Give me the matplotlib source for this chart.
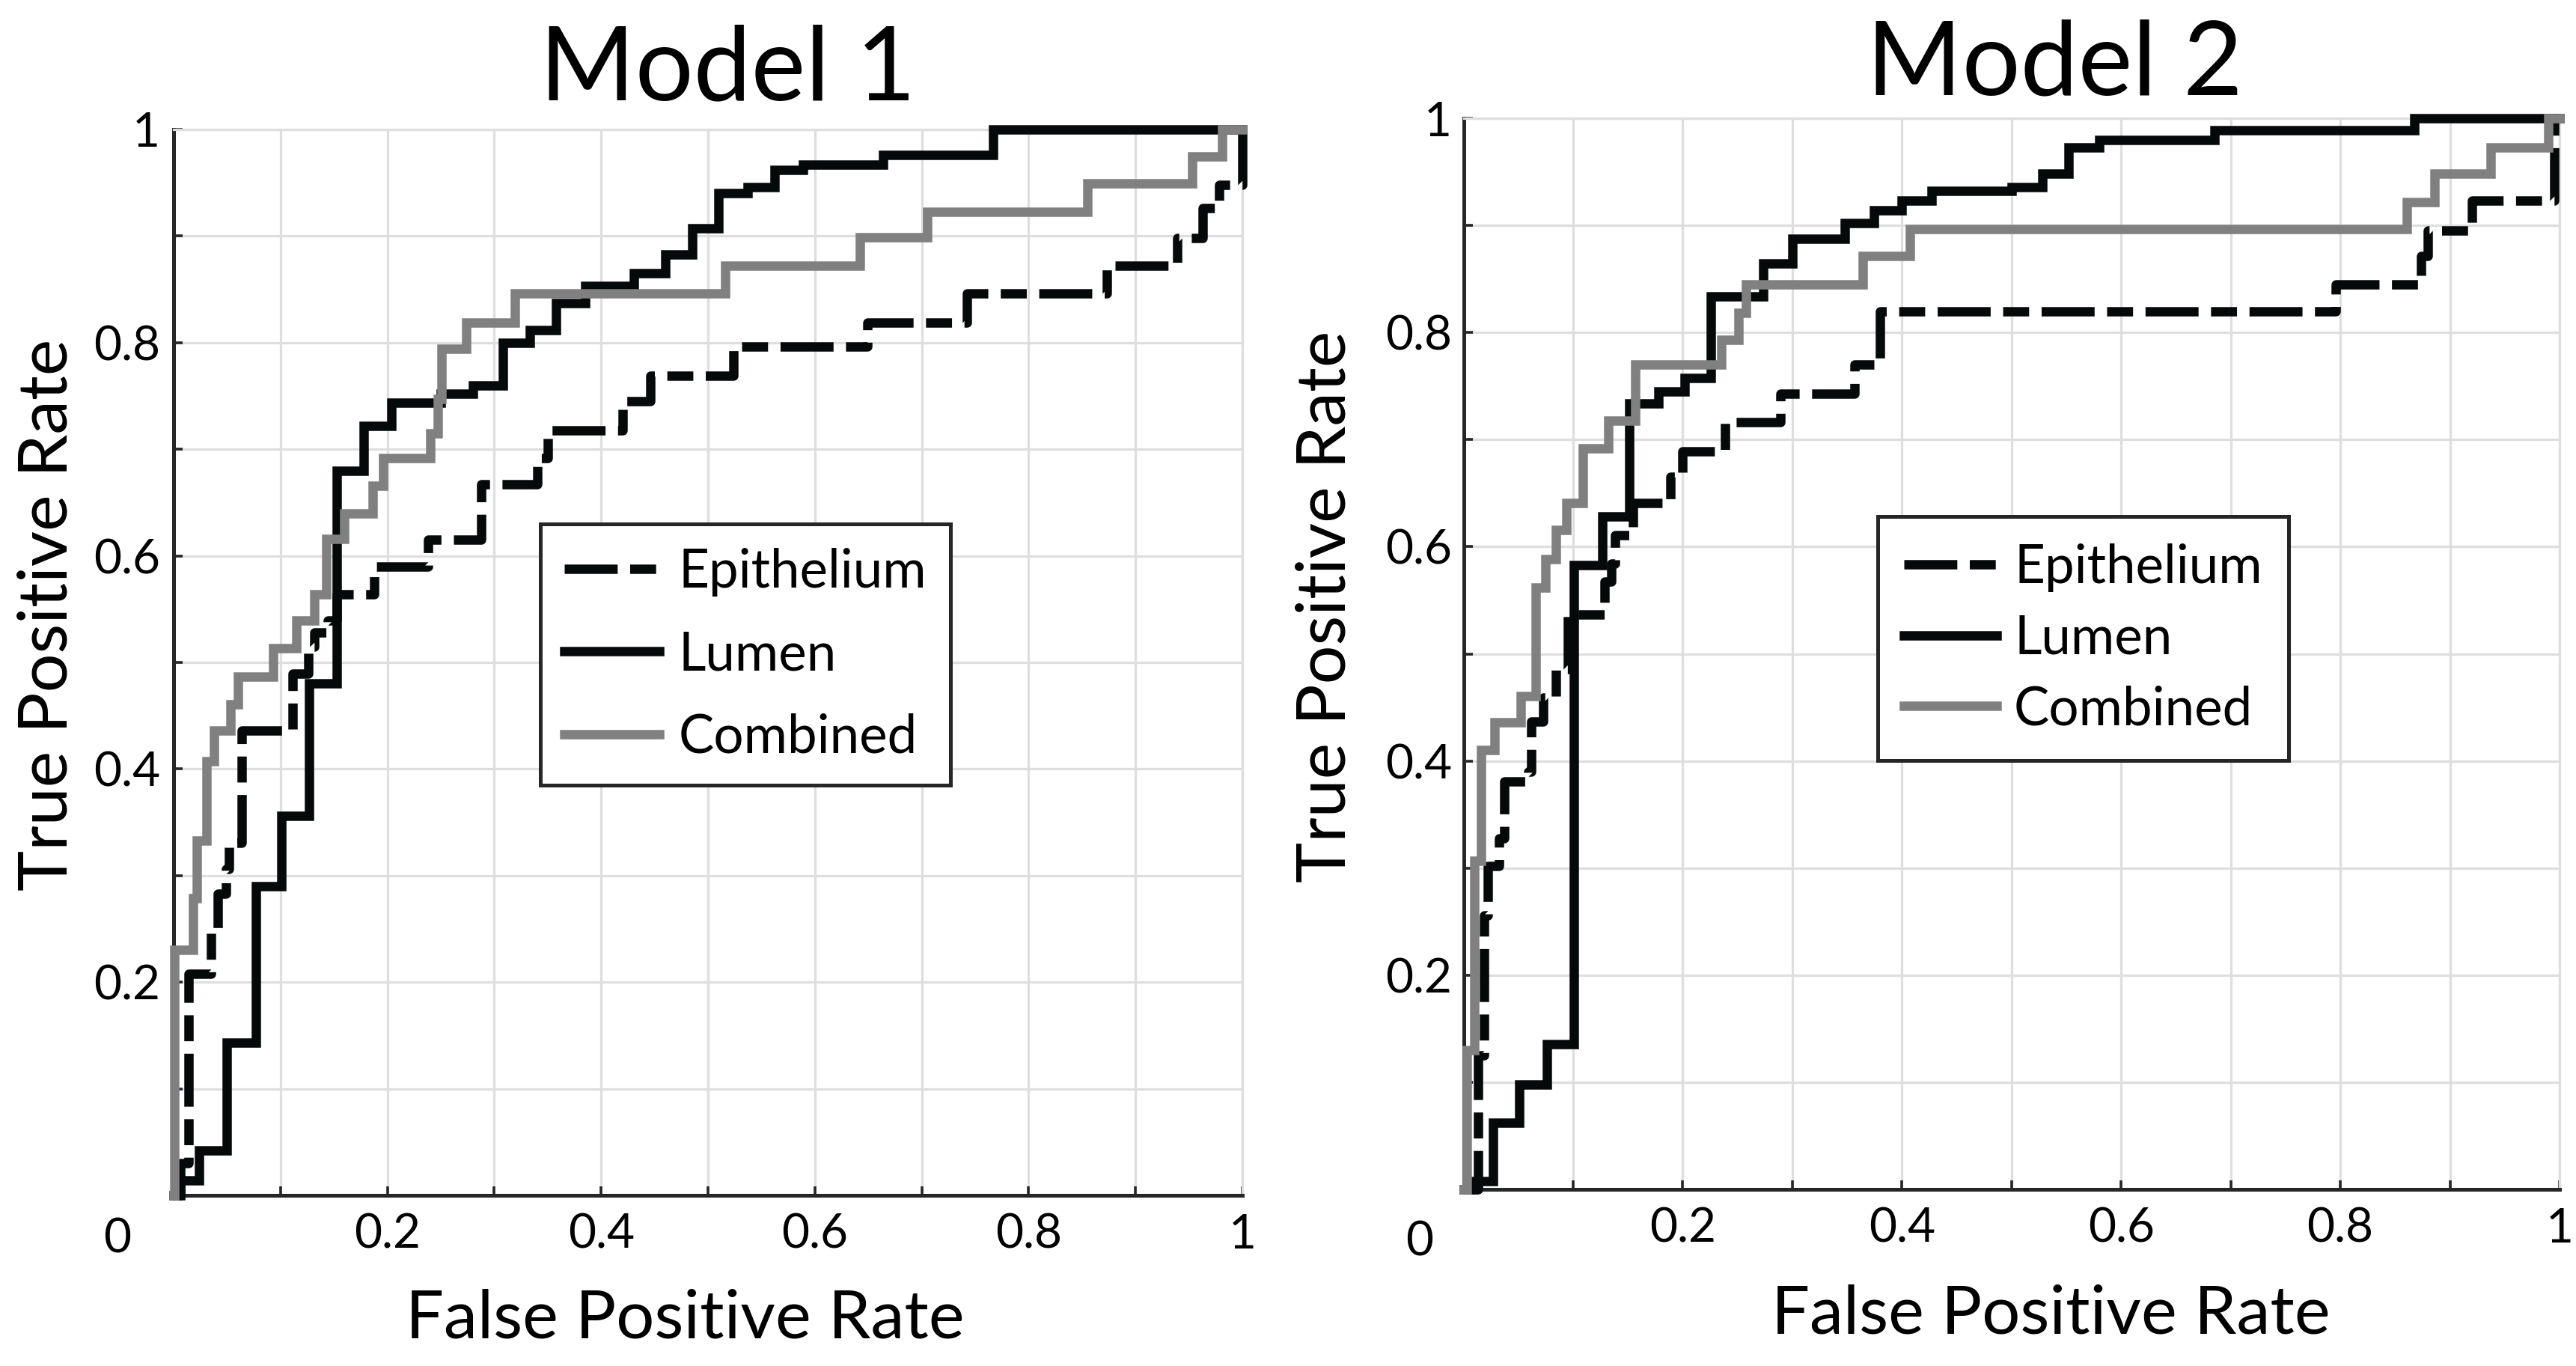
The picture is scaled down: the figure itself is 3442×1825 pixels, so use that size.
import matplotlib
matplotlib.use('Agg')
import matplotlib.pyplot as plt
import numpy as np

plt.rcParams['font.family'] = ['Lato', 'DejaVu Sans']
plt.rcParams['lines.scale_dashes'] = False

# ---------------- data (ROC step vertices: FPR where TPR rises, TPR after rise) ----------------
series_names = ['Epithelium', 'Lumen', 'Combined']

m1_epi_fpr = [0, 0.006, 0.014, 0.035, 0.041, 0.049, 0.052, 0.064, 0.111, 0.126, 0.132, 0.1445, 0.153,
              0.188, 0.238, 0.288, 0.34, 0.35, 0.42, 0.446, 0.524, 0.649, 0.742, 0.873, 0.939, 0.963,
              0.978, 1.0]
m1_epi_tpr = [0, 0.03, 0.208, 0.25, 0.283, 0.306, 0.331, 0.436, 0.4895, 0.515, 0.528, 0.539, 0.564,
              0.59, 0.615, 0.667, 0.692, 0.718, 0.745, 0.769, 0.796, 0.819, 0.846, 0.8725, 0.898, 0.926,
              0.948, 1.0]

m1_lum_fpr = [0, 0.006, 0.024, 0.05, 0.077, 0.101, 0.127, 0.153, 0.178, 0.204, 0.25, 0.28, 0.308, 0.333,
              0.358, 0.385, 0.431, 0.46, 0.485, 0.51, 0.537, 0.562, 0.589, 0.664, 0.767, 1.0]
m1_lum_tpr = [0, 0.014, 0.042, 0.143, 0.29, 0.356, 0.48, 0.68, 0.722, 0.744, 0.752, 0.76, 0.80, 0.812,
              0.837, 0.853, 0.865, 0.883, 0.907, 0.94, 0.946, 0.962, 0.967, 0.976, 1.0, 1.0]

m1_com_fpr = [0, 0.001, 0.018, 0.022, 0.031, 0.038, 0.0535, 0.06, 0.093, 0.115, 0.132, 0.143, 0.16,
              0.1865, 0.196, 0.24, 0.247, 0.251, 0.274, 0.319, 0.516, 0.642, 0.705, 0.855, 0.953, 0.981, 1.0]
m1_com_tpr = [0, 0.23, 0.279, 0.333, 0.4075, 0.436, 0.461, 0.487, 0.513, 0.539, 0.564, 0.616, 0.64,
              0.666, 0.692, 0.715, 0.747, 0.794, 0.819, 0.846, 0.8725, 0.899, 0.923, 0.9496, 0.975, 1.0, 1.0]

m2_epi_fpr = [0, 0.013, 0.019, 0.0224, 0.0326, 0.037, 0.059, 0.062, 0.0725, 0.084, 0.095, 0.129, 0.135,
              0.1385, 0.155, 0.189, 0.20, 0.2387, 0.289, 0.357, 0.38, 0.796, 0.874, 0.88, 0.92, 0.995, 1.0]
m2_epi_tpr = [0, 0.125, 0.2556, 0.302, 0.328, 0.381, 0.39, 0.437, 0.459, 0.486, 0.537, 0.5677, 0.584,
              0.611, 0.641, 0.6655, 0.689, 0.7165, 0.743, 0.77, 0.82, 0.845, 0.8716, 0.895, 0.923, 1.0, 1.0]

m2_lum_fpr = [0, 0.009, 0.027, 0.051, 0.076, 0.101, 0.127, 0.151, 0.178, 0.202, 0.226, 0.2735, 0.30,
              0.348, 0.3745, 0.40, 0.427, 0.50, 0.528, 0.552, 0.58, 0.685, 0.8675, 1.0]
m2_lum_tpr = [0, 0.0075, 0.062, 0.098, 0.1356, 0.583, 0.628, 0.734, 0.745, 0.7575, 0.834, 0.8645, 0.8876,
              0.902, 0.914, 0.923, 0.932, 0.936, 0.948, 0.973, 0.98, 0.989, 1.0, 1.0]

m2_com_fpr = [0, 0.003, 0.01, 0.016, 0.028, 0.052, 0.066, 0.075, 0.084, 0.094, 0.109, 0.132, 0.157,
              0.235, 0.251, 0.258, 0.364, 0.4076, 0.8605, 0.886, 0.937, 0.99, 1.0]
m2_com_tpr = [0, 0.13, 0.307, 0.41, 0.436, 0.4605, 0.562, 0.5886, 0.6154, 0.641, 0.6915, 0.718, 0.77,
              0.793, 0.818, 0.845, 0.8716, 0.8966, 0.9215, 0.948, 0.973, 1.0, 1.0]

tick_vals = [0, 0.1, 0.2, 0.3, 0.4, 0.5, 0.6, 0.7, 0.8, 0.9, 1.0]
tick_labels = ['', '', '0.2', '', '0.4', '', '0.6', '', '0.8', '', '1']
titles = ['Model 1', 'Model 2']

# ---------------- styling ----------------
W, H = 3442, 1825
BLACK = '#060909'
GRAY = '#808080'
GRID = '#dedede'
SPINE = '#262626'
LW = 9.0
DASH = (0, (51, 12, 25, 12))

fig = plt.figure(figsize=(W / 100, H / 100), dpi=100)
fig.patch.set_facecolor('white')

def px(x, y):
    return x / W, 1 - y / H

ax1 = fig.add_axes([232 / W, 1 - 1597 / H, 1428 / W, 1424 / H])
ax2 = fig.add_axes([1955.5 / W, 1 - 1589 / H, 1464.5 / W, 1431 / H])

def style(ax, ypad):
    ax.set_xlim(0, 1)
    ax.set_ylim(0, 1)
    ax.set_xticks(tick_vals)
    ax.set_yticks(tick_vals)
    ax.set_xticklabels(tick_labels)
    ax.set_yticklabels(tick_labels)
    ax.grid(True, color=GRID, linewidth=2.3, zorder=0)
    ax.set_axisbelow(True)
    for s in ['left', 'bottom']:
        ax.spines[s].set_color(SPINE)
        ax.spines[s].set_linewidth(3.6)
    for s in ['top', 'right']:
        ax.spines[s].set_color(GRID)
        ax.spines[s].set_linewidth(2.3)
    ax.tick_params(axis='both', direction='in', length=8.5, width=2.6, color=SPINE,
                   labelsize=46, top=False, right=False)
    ax.tick_params(axis='x', pad=17)
    ax.tick_params(axis='y', pad=ypad)

def draw(ax, epi, lum, com, leg_anchor, leg_spacing, leg_textpad, leg_hl, leg_bp):
    h1, = ax.plot(epi[0], epi[1], drawstyle='steps-post', color=BLACK, lw=LW, ls=DASH,
                  dash_capstyle='butt', clip_on=False, zorder=3)
    h2, = ax.plot(lum[0], lum[1], drawstyle='steps-post', color=BLACK, lw=LW,
                  solid_joinstyle='miter', clip_on=False, zorder=3)
    h3, = ax.plot(com[0], com[1], drawstyle='steps-post', color=GRAY, lw=LW,
                  solid_joinstyle='miter', clip_on=False, zorder=4)
    leg = ax.legend([h1, h2, h3], series_names, loc='upper left', bbox_to_anchor=leg_anchor,
                    fontsize=51, frameon=True, fancybox=False, edgecolor=SPINE, framealpha=1,
                    borderpad=leg_bp, labelspacing=leg_spacing, handlelength=leg_hl,
                    handletextpad=leg_textpad, borderaxespad=0)
    leg.get_frame().set_linewidth(3.6)
    leg.set_zorder(10)

style(ax1, 13)
style(ax2, 11)

draw(ax1, (m1_epi_fpr, m1_epi_tpr), (m1_lum_fpr, m1_lum_tpr), (m1_com_fpr, m1_com_tpr),
     (0.343, 0.63), 0.64, 0.36, 1.8, 0.45)
draw(ax2, (m2_epi_fpr, m2_epi_tpr), (m2_lum_fpr, m2_lum_tpr), (m2_com_fpr, m2_com_tpr),
     (0.378, 0.628), 0.42, 0.32, 1.75, 0.5)

# titles
fig.text(*px(972, 133), titles[0], fontsize=99, ha='center', va='baseline')
fig.text(*px(2745, 126), titles[1], fontsize=99, ha='center', va='baseline')

# axis labels
fig.text(*px(915, 1788), 'False Positive Rate', fontsize=65, ha='center', va='baseline')
fig.text(*px(2740, 1781), 'False Positive Rate', fontsize=65, ha='center', va='baseline')
fig.text(*px(90, 821), 'True Positive Rate', fontsize=66, ha='center', va='baseline',
         rotation=90, rotation_mode='anchor')
fig.text(*px(1797, 810), 'True Positive Rate', fontsize=66, ha='center', va='baseline',
         rotation=90, rotation_mode='anchor')

# shared corner "0" labels
fig.text(*px(157, 1674), '0', fontsize=46, ha='center', va='baseline')
fig.text(*px(1897, 1678), '0', fontsize=46, ha='center', va='baseline')

fig.savefig('out.png', dpi=100, facecolor='white')
